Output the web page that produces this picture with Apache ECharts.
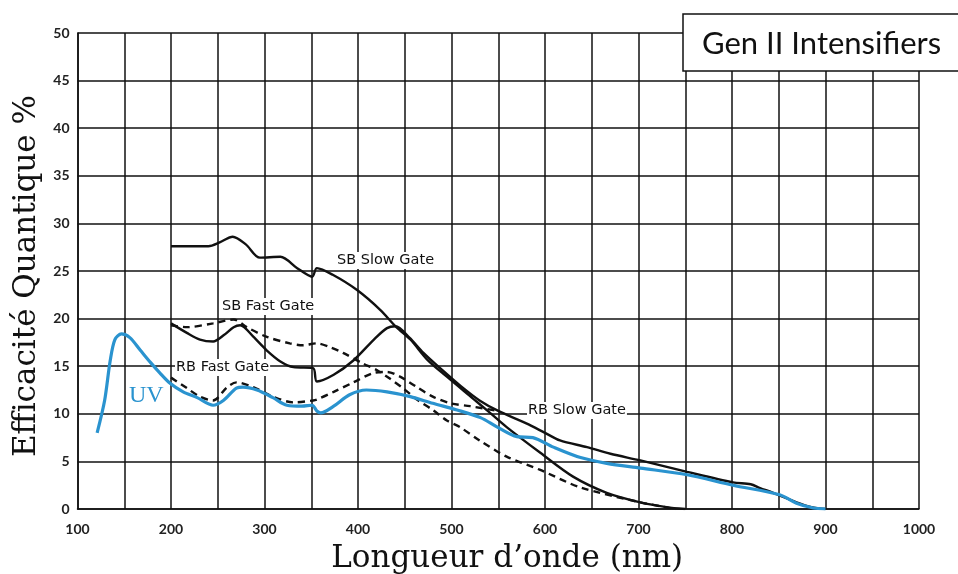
<!DOCTYPE html>
<html>
<head>
<meta charset="utf-8">
<script src="https://cdn.jsdelivr.net/npm/echarts@6/dist/echarts.min.js"></script>
<style>
html,body{margin:0;padding:0;background:#fff;}
#chart{width:958px;height:574px;}
</style>
</head>
<body>
<div id="chart"></div>
<script>
// ---- data (wavelength nm, QE %) ----
const xTicks = [100,200,300,400,500,600,700,800,900,1000];

const uvX = [121,129,135,140,147,156,167,178,188,199,213,228,245,256,270,277,292,309,324,340,351,356,360,374,391,409,431,456,480,506,531,549,570,587,609,638,666,702,752,801,851,869,887,900];
const uvY = [8.0,11.4,15.6,17.8,18.4,18.0,16.7,15.4,14.3,13.2,12.3,11.7,10.9,11.4,12.7,12.8,12.5,11.7,10.9,10.8,10.9,10.3,10.1,10.8,12.0,12.5,12.3,11.8,11.1,10.4,9.6,8.6,7.6,7.5,6.5,5.4,4.8,4.3,3.6,2.5,1.5,0.6,0.1,0];

const sbSlowX = [200,240,252,266,280,295,317,335,351,356,373,399,424,441,456,474,495,523,540,559,595,630,666,702,730,750];
const sbSlowY = [27.6,27.6,28.0,28.6,27.8,26.4,26.5,25.3,24.4,25.3,24.6,23.0,20.9,19.1,17.8,15.7,13.9,11.6,10.2,8.6,5.9,3.4,1.7,0.7,0.2,0];

const midSolidX = [200,217,231,245,257,267,274,288,302,317,331,352,356,374,395,417,431,440,455,470,490,510,530,550,580,600,616,645,670,702,752,801,820,830,844,869,885,900];
const midSolidY = [19.5,18.5,17.8,17.6,18.3,19.1,19.3,18.1,16.7,15.5,14.9,14.8,13.4,14.1,15.6,17.8,19.0,19.2,18.0,16.4,14.6,12.9,11.4,10.3,9.0,8.0,7.2,6.5,5.8,5.1,3.9,2.8,2.6,2.2,1.7,0.7,0.2,0];

const upperDashX = [200,217,245,267,281,302,327,341,356,370,384,405,420,434,448,463,480,495,509,530,559,595,637,702,740];
const upperDashY = [19.3,19.1,19.5,19.9,19.1,18.1,17.4,17.2,17.4,17.0,16.4,15.3,14.6,13.7,12.7,11.5,10.4,9.3,8.6,7.2,5.5,4.1,2.3,0.7,0];

const lowerDashX = [200,217,231,245,260,270,288,309,331,352,356,374,395,417,431,445,463,480,499,520,550];
const lowerDashY = [13.8,12.7,11.8,11.4,12.8,13.3,12.8,11.8,11.2,11.4,11.5,12.3,13.3,14.3,14.4,13.9,12.8,11.8,11.1,10.8,10.3];

const zip = (xs, ys) => xs.map((x, i) => [x, ys[i]]);

const chart = echarts.init(document.getElementById('chart'), null, {renderer: 'canvas'});

const blackLine = (name, xs, ys, dashed) => ({
  name: name, type: 'line', data: zip(xs, ys), showSymbol: false, smooth: 0.3,
  lineStyle: {color: '#111', width: 2.4, type: dashed ? [7, 5] : 'solid'},
  z: 3
});

const labelFont = {fontFamily: '"DejaVu Sans", sans-serif', fontSize: 14.5, fill: '#111'};

chart.setOption({
  animation: false,
  backgroundColor: '#fff',
  grid: {left: 77.5, right: 39, top: 33, bottom: 65, containLabel: false, outerBoundsMode: 'none'},
  xAxis: {
    type: 'value', min: 100, max: 1000, interval: 50,
    name: 'Longueur d\u2019onde (nm)', nameLocation: 'middle', nameGap: 34,
    nameTextStyle: {fontFamily: '"DejaVu Serif", serif', fontSize: 31, color: '#111', verticalAlign: 'top', padding: [0, 0, 0, 18]},
    axisLine: {show: true, lineStyle: {color: '#111', width: 1.5}},
    axisTick: {show: false},
    axisLabel: {
      formatter: v => (v % 100 === 0 ? String(v) : ''),
      fontFamily: 'Lato, sans-serif', fontWeight: 'bold', fontSize: 14, color: '#222', margin: 13
    },
    splitLine: {show: true, lineStyle: {color: '#111', width: 1.5}}
  },
  yAxis: {
    type: 'value', min: 0, max: 50, interval: 5,
    name: 'Efficacit\u00e9 Quantique %', nameLocation: 'middle', nameGap: 31,
    nameTextStyle: {fontFamily: '"DejaVu Serif", serif', fontSize: 31, color: '#111', padding: [0, 10, 0, 0]},
    axisLine: {show: true, lineStyle: {color: '#111', width: 1.5}},
    axisTick: {show: false},
    axisLabel: {fontFamily: 'Lato, sans-serif', fontWeight: 'bold', fontSize: 14, color: '#222', margin: 8},
    splitLine: {show: true, lineStyle: {color: '#111', width: 1.5}}
  },
  series: [
    blackLine('SB Slow Gate', sbSlowX, sbSlowY, false),
    blackLine('Mid solid', midSolidX, midSolidY, false),
    blackLine('Upper dashed', upperDashX, upperDashY, true),
    blackLine('Lower dashed', lowerDashX, lowerDashY, true),
    {
      name: 'UV', type: 'line', data: zip(uvX, uvY), showSymbol: false, smooth: 0.3,
      lineStyle: {color: '#2a93cf', width: 3.2}, z: 4
    }
  ],
  graphic: [
    {type: 'rect', shape: {x: 683, y: 14, width: 280, height: 57},
     style: {fill: '#fff', stroke: '#111', lineWidth: 1.5}, z: 10},
    {type: 'text', left: 702, top: 28, z: 11,
     style: {text: 'Gen II Intensifiers', fontFamily: 'Lato, "Open Sans", sans-serif', fontSize: 31, fill: '#111'}},
    {type: 'text', left: 336, top: 252, z: 11,
     style: Object.assign({text: 'SB Slow Gate', backgroundColor: '#fff', padding: [1, 1]}, labelFont)},
    {type: 'text', left: 221, top: 298, z: 11,
     style: Object.assign({text: 'SB Fast Gate', backgroundColor: '#fff', padding: [1, 1]}, labelFont)},
    {type: 'text', left: 175, top: 359, z: 11,
     style: Object.assign({text: 'RB Fast Gate', backgroundColor: '#fff', padding: [1, 1]}, labelFont)},
    {type: 'text', left: 527, top: 402, z: 11,
     style: Object.assign({text: 'RB Slow Gate', backgroundColor: '#fff', padding: [1, 1]}, labelFont)},
    {type: 'text', left: 129, top: 384, z: 11,
     style: {text: 'UV', fontFamily: '"Liberation Serif", serif', fontSize: 24, fill: '#2a93cf'}}
  ]
});
</script>
</body>
</html>
